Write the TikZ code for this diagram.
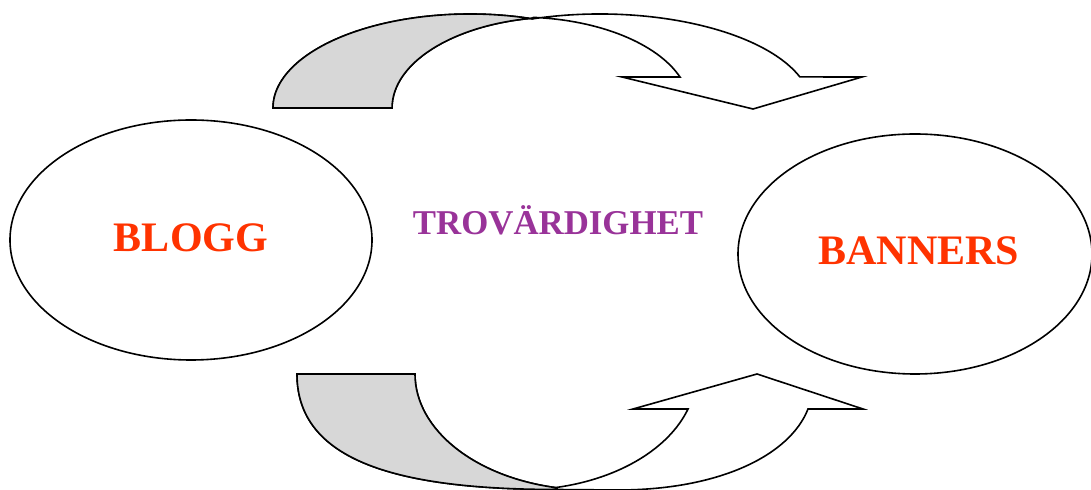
\documentclass[tikz,border=0pt]{standalone}
\usepackage{fontspec}
\setmainfont{Liberation Serif}
\usetikzlibrary{shapes.geometric}
\definecolor{bloggred}{RGB}{255,51,0}
\definecolor{trovpurple}{RGB}{153,51,153}
\definecolor{backgray}{RGB}{215,215,215}

\begin{document}
\begin{tikzpicture}[x=0.5pt,y=-0.5pt,
  bubble/.style={ellipse,draw,line width=0.8pt,inner sep=0pt},
  bubbletext/.style={text=bloggred,font=\fontsize{21}{25}\selectfont\bfseries,anchor=base},
  band/.style={draw,line width=0.8pt,line join=miter}]
\useasboundingbox (0,0) rectangle (1091,490);
\clip (0,0) rectangle (1091,490);
% top curved arrow (BLOGG over to BANNERS)
\draw[band,fill=white] (273,108) arc[start angle=180,end angle=71.5,x radius=98.5pt,y radius=47pt]
  arc[start angle=108.5,end angle=19.3,x radius=106pt,y radius=47pt]
  -- (862,77) -- (753,109) -- (622,77) -- (680,77)
  arc[start angle=20,end angle=85.6,x radius=85pt,y radius=45.5pt]
  -- (532.6,18.2) arc[start angle=99.4,end angle=180,x radius=84pt,y radius=45.5pt] -- cycle;
% grey back side of the band
\draw[band,fill=backgray] (273,108) arc[start angle=180,end angle=71.5,x radius=98.5pt,y radius=47pt]
  -- (532.6,18.2) arc[start angle=99.4,end angle=180,x radius=84pt,y radius=45.5pt] -- cycle;
% bottom curved arrow (under, pointing up)
\draw[band,fill=white] (297,374) .. controls (297,462) and (400,489.5) .. (557,489.5) -- (618,490)
  .. controls (720,490) and (790,455) .. (808,409)
  -- (863,409) -- (757,374) -- (633,409) -- (688,409)
  arc[start angle=-17.6,end angle=-77.9,x radius=88pt,y radius=58pt]
  -- (557.1,487.8) arc[start angle=-101.1,end angle=-180,x radius=88pt,y radius=58pt] -- cycle;
\draw[band,fill=backgray] (297,374) .. controls (297,462) and (400,489.5) .. (557,489.5)
  -- (557.1,487.8) arc[start angle=-101.1,end angle=-180,x radius=88pt,y radius=58pt] -- cycle;
% the two bubbles and the word between them
\node[bubble,minimum width=181pt,minimum height=120pt] (blogg) at (191,240) {};
\node[bubble,minimum width=177pt,minimum height=120pt] (banners) at (915,254) {};
\node[bubbletext] (bloggtext) at (191,252) {BLOGG};
\node[bubbletext] (bannerstext) at (919,265) {BANNERS};
\node[font=\fontsize{17.4}{20}\selectfont\bfseries,text=trovpurple,anchor=base] (trov) at (558,235) {TROVÄRDIGHET};
\end{tikzpicture}
\end{document}
